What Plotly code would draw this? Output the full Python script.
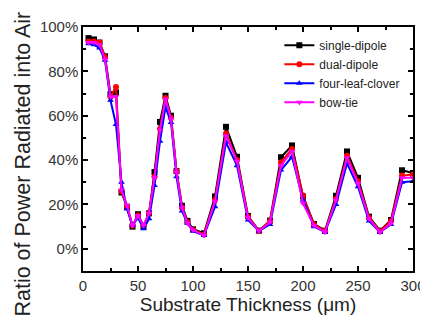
import plotly.graph_objects as go

thickness = [5, 10, 15, 20, 25, 30, 35, 40, 45, 50, 55, 60, 65, 70, 75, 80, 85, 90, 95, 100,
             110, 120, 130, 140, 150, 160, 170, 180, 190, 200, 210, 220, 230, 240, 250, 260, 270, 280, 290, 300]

single_dipole = [95, 94.4, 93, 86.8, 69.7, 70.5, 25.4, 19, 10, 15.6, 10, 16, 34.6, 57.2, 69, 60, 35, 19.4, 12.6, 8.8,
                 7, 23.6, 55, 41.5, 14.8, 8.2, 12.7, 41.3, 46.6, 23.6, 11.2, 8.2, 23.9, 43.9, 32, 14.5, 8.2, 13, 35.4, 34.2]
dual_dipole = [93.5, 93.5, 93, 86.5, 68.5, 73, 26, 19, 10.5, 15, 10.5, 16, 32.5, 54, 68, 59, 35, 18.5, 12, 8.5,
               6.5, 22, 52, 40, 14.5, 8, 12.5, 39, 45, 24, 11, 8, 22.5, 42, 30.5, 14, 8, 12.5, 33, 33.5]
four_leaf_clover = [92.5, 92, 90.5, 85, 67, 56, 30, 18, 10.5, 14, 9, 13.5, 28.5, 48.5, 64, 57, 32.5, 17, 11.5, 8,
                    6, 19, 48, 37.5, 13, 8, 11, 35.5, 41.5, 22, 10, 7.5, 20, 38.5, 28, 12.5, 7.5, 11, 30, 30.5]
bow_tie = [93, 93, 92, 85.5, 68.5, 68.5, 26.5, 19.5, 10.5, 15, 10.5, 16, 32, 53.5, 67.5, 58.5, 34.5, 18.5, 11.5, 8.5,
           6, 21.5, 51, 39.5, 14, 8, 12, 37.5, 44, 20.5, 10.5, 7.5, 22, 41, 29.5, 13.5, 7.5, 11.5, 32, 32]

x_ticks = [0, 50, 100, 150, 200, 250, 300]
y_ticks = [0, 20, 40, 60, 80, 100]
y_tick_labels = ["0%", "20%", "40%", "60%", "80%", "100%"]

series = [
    ("single-dipole", single_dipole, "#000000", "square"),
    ("dual-dipole", dual_dipole, "#ff0000", "circle"),
    ("four-leaf-clover", four_leaf_clover, "#0000ff", "triangle-up"),
    ("bow-tie", bow_tie, "#ff00ff", "triangle-down"),
]

fig = go.Figure()
for name, vals, color, sym in series:
    fig.add_trace(go.Scatter(
        x=thickness, y=vals, name=name, mode="lines+markers",
        line=dict(color=color, width=2),
        marker=dict(symbol=sym, size=6, color=color),
    ))

font_family = "Liberation Sans, Arial, sans-serif"
axis_common = dict(
    showline=True, linecolor="black", linewidth=1.5, mirror="ticks",
    ticks="inside", ticklen=5, tickwidth=1.5, tickcolor="black",
    showgrid=False, zeroline=False,
    tickfont=dict(family=font_family, size=15, color="#333333"),
)
fig.update_layout(
    width=420, height=317,
    margin=dict(l=75, r=15, t=19, b=54, autoexpand=False),
    paper_bgcolor="white", plot_bgcolor="white",
    font=dict(family=font_family, color="#333333"),
    legend=dict(x=0.595, y=0.985, xanchor="left", yanchor="top",
                font=dict(family=font_family, size=12, color="#222222"),
                bgcolor="rgba(0,0,0,0)", itemwidth=30),
    showlegend=True,
    annotations=[dict(
        text="Ratio of Power Radiated into Air", textangle=-90,
        xref="paper", yref="paper", x=-0.182, y=0.44,
        xanchor="center", yanchor="middle", showarrow=False,
        font=dict(family=font_family, size=21.5, color="#222222"),
    )],
)
fig.update_xaxes(range=[0, 300], tickvals=x_ticks,
                 minor=dict(tickvals=[25, 75, 125, 175, 225, 275], ticks="inside", ticklen=3, tickcolor="black"),
                 title=dict(text="Substrate Thickness (μm)", font=dict(family=font_family, size=19, color="#222222"), standoff=3),
                 **axis_common)
fig.update_yaxes(range=[-10, 100], tickvals=y_ticks, ticktext=y_tick_labels,
                 minor=dict(tickvals=[-10, 10, 30, 50, 70, 90], ticks="inside", ticklen=3, tickcolor="black"),
                 **axis_common)

fig.write_html("out.html")
